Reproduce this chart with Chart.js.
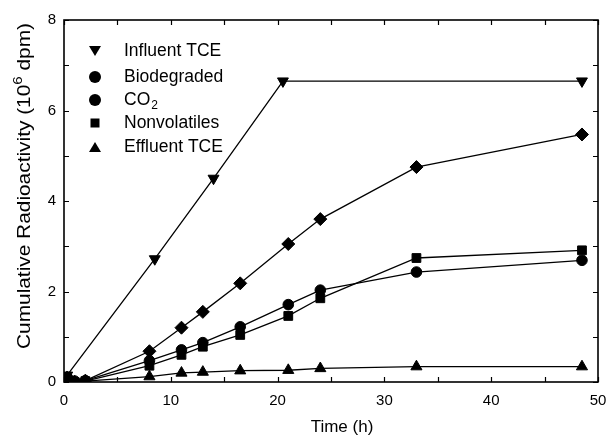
<!DOCTYPE html>
<html><head><meta charset="utf-8">
<script src="https://cdn.jsdelivr.net/npm/chart.js@4/dist/chart.umd.min.js"></script>
<style>html,body{margin:0;padding:0;background:#fff}</style>
</head><body>
<canvas id="c" width="606" height="435"></canvas>
<script>
// ---- data ----
const seriesNames = ['Influent TCE', 'Biodegraded', 'CO2', 'Nonvolatiles', 'Effluent TCE'];
const timeInfluent = [0.3, 8.5, 14, 20.5, 48.5];
const influentTCE = [0.15, 2.72, 4.5, 6.65, 6.65];
const timeOther = [0.3, 1, 2, 8, 11, 13, 16.5, 21, 24, 33, 48.5];
const biodegraded = [0.1, 0.0, 0.03, 0.68, 1.2, 1.55, 2.18, 3.05, 3.6, 4.75, 5.47];
const co2 = [0.1, 0.02, 0.03, 0.47, 0.71, 0.87, 1.22, 1.71, 2.03, 2.43, 2.69];
const nonvolatiles = [0.08, 0.0, 0.02, 0.36, 0.6, 0.78, 1.04, 1.46, 1.85, 2.74, 2.91];
const effluentTCE = [0.06, 0.0, 0.02, 0.12, 0.2, 0.22, 0.25, 0.26, 0.3, 0.34, 0.34];
const xTickLabels = [0, 10, 20, 30, 40, 50];
const yTickLabels = [0, 2, 4, 6, 8];
const xMinorStep = 5;
const yMinorStep = 1;

const FONT = "'Liberation Sans', Arial, Helvetica, sans-serif";
const pts = (xs, ys) => xs.map((x, i) => ({x: x, y: ys[i]}));

function ds(label, xs, ys, style, radius, rotation) {
  return {
    label: label, data: pts(xs, ys),
    borderColor: '#000', backgroundColor: '#000', borderWidth: 1.3,
    pointStyle: style, pointRadius: radius, pointRotation: rotation || 0,
    pointBackgroundColor: '#000', pointBorderColor: '#000', pointBorderWidth: 1,
    pointHoverRadius: radius, tension: 0, fill: false
  };
}

const legendMarkers = ['triDown', 'circle', 'circle', 'square', 'triUp'];

const decor = {
  id: 'decor',
  afterDraw(chart) {
    const ctx = chart.ctx, a = chart.chartArea;
    const xs = chart.scales.x, ys = chart.scales.y;
    ctx.save();
    ctx.strokeStyle = '#000'; ctx.lineWidth = 1.6;
    ctx.strokeRect(a.left, a.top, a.right - a.left, a.bottom - a.top);
    // inward ticks on all four sides
    ctx.lineWidth = 1.2;
    const tl = 5;
    for (let v = xs.min; v <= xs.max + 1e-9; v += xMinorStep) {
      const px = Math.round(xs.getPixelForValue(v)) + 0.5;
      ctx.beginPath();
      ctx.moveTo(px, a.bottom); ctx.lineTo(px, a.bottom - tl);
      ctx.moveTo(px, a.top); ctx.lineTo(px, a.top + tl);
      ctx.stroke();
    }
    for (let v = ys.min; v <= ys.max + 1e-9; v += yMinorStep) {
      const py = Math.round(ys.getPixelForValue(v)) + 0.5;
      ctx.beginPath();
      ctx.moveTo(a.left, py); ctx.lineTo(a.left + tl, py);
      ctx.moveTo(a.right, py); ctx.lineTo(a.right - tl, py);
      ctx.stroke();
    }
    // axis titles
    ctx.fillStyle = '#000';
    ctx.font = '17px ' + FONT;
    ctx.textAlign = 'center'; ctx.textBaseline = 'middle';
    ctx.fillText('Time (h)', 342, 427);
    // y title with superscript, stretched along its length to match reference span
    const p1 = 'Cumulative Radioactivity (10', p2 = '6', p3 = ' dpm)';
    ctx.font = '18px ' + FONT; const w1 = ctx.measureText(p1).width, w3 = ctx.measureText(p3).width;
    ctx.font = '13px ' + FONT; const w2 = ctx.measureText(p2).width;
    const tot = w1 + w2 + w3;
    const targetLen = 326, yTop = 23;
    const sx = targetLen / tot;
    ctx.save();
    ctx.translate(25, yTop + targetLen / 2);
    ctx.rotate(-Math.PI / 2);
    ctx.scale(sx, 1);
    ctx.textAlign = 'left'; ctx.textBaseline = 'middle';
    let x0 = -tot / 2;
    ctx.font = '18px ' + FONT; ctx.fillText(p1, x0, 0); x0 += w1;
    ctx.font = '13px ' + FONT; ctx.fillText(p2, x0, -7); x0 += w2;
    ctx.font = '18px ' + FONT; ctx.fillText(p3, x0, 0);
    ctx.restore();
    // legend
    const rows = [51, 77, 100, 123, 147];
    const mx = 95, tx = 124;
    chart.data.datasets.forEach((d, i) => {
      const y = rows[i];
      ctx.beginPath();
      const m = legendMarkers[i];
      if (m === 'circle') { ctx.arc(mx, y, 6, 0, Math.PI * 2); }
      else if (m === 'square') { ctx.rect(mx - 4.5, y - 4.5, 9, 9); }
      else if (m === 'triDown') { ctx.moveTo(mx - 6, y - 5); ctx.lineTo(mx + 6, y - 5); ctx.lineTo(mx, y + 5); ctx.closePath(); }
      else { ctx.moveTo(mx - 6, y + 5); ctx.lineTo(mx + 6, y + 5); ctx.lineTo(mx, y - 5); ctx.closePath(); }
      ctx.fill();
      ctx.textAlign = 'left'; ctx.textBaseline = 'middle';
      ctx.font = '17.5px ' + FONT;
      if (d.label === 'CO2') {
        ctx.fillText('CO', tx, y);
        const w = ctx.measureText('CO').width;
        ctx.font = '12px ' + FONT;
        ctx.fillText('2', tx + w + 1, y + 6);
      } else {
        ctx.fillText(d.label, tx, y);
      }
    });
    ctx.restore();
  }
};

new Chart(document.getElementById('c'), {
  type: 'line',
  data: {
    datasets: [
      ds(seriesNames[0], timeInfluent, influentTCE, 'triangle', 6.3, 180),
      ds(seriesNames[1], timeOther, biodegraded, 'rectRot', 6.5),
      ds(seriesNames[2], timeOther, co2, 'circle', 5.3),
      ds(seriesNames[3], timeOther, nonvolatiles, 'rect', 6.2),
      ds(seriesNames[4], timeOther, effluentTCE, 'triangle', 6.4)
    ]
  },
  options: {
    responsive: false, animation: false, devicePixelRatio: 1,
    layout: {padding: {top: 20, right: 8, left: 0, bottom: 0}, autoPadding: false},
    plugins: {legend: {display: false}, tooltip: {enabled: false}, title: {display: false}},
    scales: {
      x: {
        type: 'linear', min: 0, max: 50,
        grid: {display: false, drawTicks: false},
        border: {display: false},
        afterBuildTicks: s => { s.ticks = xTickLabels.map(v => ({value: v})); },
        ticks: {color: '#000', font: {family: FONT, size: 15}, padding: 10, maxRotation: 0, autoSkip: false},
        afterFit: s => { s.height = 53; s.paddingRight = 0; s.paddingLeft = 0; }
      },
      y: {
        min: 0, max: 8,
        grid: {display: false, drawTicks: false},
        border: {display: false},
        afterBuildTicks: s => { s.ticks = yTickLabels.map(v => ({value: v})); },
        ticks: {color: '#000', font: {family: FONT, size: 15}, padding: 8, autoSkip: false},
        afterFit: s => { s.width = 64; s.paddingTop = 0; s.paddingBottom = 0; }
      }
    }
  },
  plugins: [decor]
});
</script>
</body></html>
